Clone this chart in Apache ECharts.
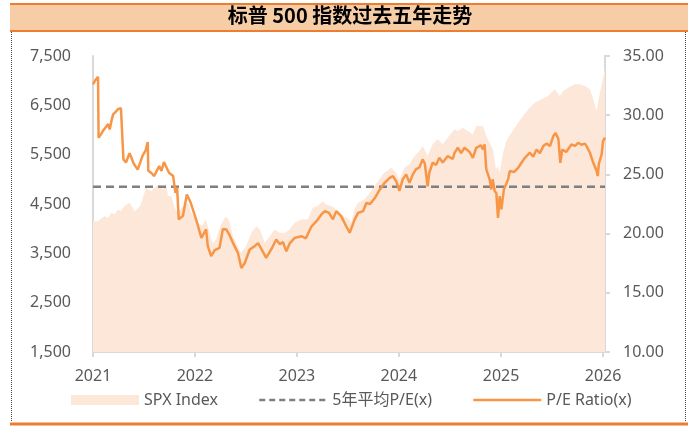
<!DOCTYPE html>
<html>
<head>
<meta charset="utf-8">
<script src="https://cdn.jsdelivr.net/npm/echarts@6/dist/echarts.min.js"></script>
<style>
  html, body { margin: 0; padding: 0; background: #fff; }
  #spx-pe { width: 691px; height: 426px; }
</style>
</head>
<body>
<div id="spx-pe"></div>
<script>
// 标普500 指数 与 市盈率
var peDates = ['2021-01-01','2021-01-08','2021-01-12','2021-01-19','2021-01-21','2021-01-30','2021-02-06','2021-02-13','2021-02-24','2021-03-02',
  '2021-03-08','2021-03-14','2021-03-24','2021-03-31','2021-04-11','2021-04-18','2021-04-20','2021-04-29','2021-05-12','2021-05-27',
  '2021-06-10','2021-06-28','2021-07-08','2021-07-16','2021-07-18','2021-07-30','2021-08-08','2021-08-26','2021-09-03','2021-09-12',
  '2021-09-30','2021-10-15','2021-10-23','2021-10-29','2021-11-04','2021-11-19','2021-12-03','2021-12-17','2022-01-05','2022-01-24',
  '2022-02-10','2022-02-16','2022-02-28','2022-03-13','2022-03-30','2022-04-11','2022-04-23','2022-05-02','2022-05-17','2022-06-04',
  '2022-06-16','2022-06-28','2022-07-16','2022-08-03','2022-08-15','2022-08-29','2022-09-13','2022-10-01','2022-10-19','2022-11-01',
  '2022-11-12','2022-11-24','2022-12-07','2022-12-24','2023-01-17','2023-02-02','2023-02-22','2023-03-12','2023-03-29','2023-04-11',
  '2023-04-26','2023-05-10','2023-05-22','2023-06-08','2023-06-27','2023-07-09','2023-07-27','2023-08-08','2023-08-26','2023-09-07',
  '2023-09-20','2023-10-07','2023-10-25','2023-11-11','2023-11-29','2023-12-11','2023-12-23','2024-01-03','2024-01-15','2024-01-27',
  '2024-02-08','2024-02-20','2024-03-02','2024-03-15','2024-03-26','2024-04-03','2024-04-13','2024-04-19','2024-05-01','2024-05-13',
  '2024-05-25','2024-06-06','2024-06-24','2024-07-12','2024-07-18','2024-07-30','2024-08-11','2024-08-23','2024-09-10','2024-09-22',
  '2024-10-04','2024-10-21','2024-10-28','2024-11-03','2024-11-09','2024-11-21','2024-11-27','2024-12-02','2024-12-09','2024-12-15',
  '2024-12-21','2024-12-27','2025-01-02','2025-01-11','2025-01-26','2025-02-01','2025-02-16','2025-03-03','2025-03-15','2025-03-27',
  '2025-04-14','2025-04-26','2025-05-08','2025-05-20','2025-06-01','2025-06-13','2025-06-25','2025-07-07','2025-07-15','2025-07-25',
  '2025-08-01','2025-08-08','2025-08-22','2025-09-10','2025-09-22','2025-10-04','2025-10-16','2025-10-28','2025-11-03','2025-11-15',
  '2025-11-27','2025-12-09','2025-12-13','2025-12-17','2025-12-27','2026-01-01','2026-01-08'];
var peValues = [32.6,32.9,33.0,33.25,28.1,28.4,28.7,28.9,29.25,28.8,
  29.5,30.07,30.3,30.5,30.6,30.5,26.27,26.0,26.8,25.9,
  25.4,26.6,27.0,27.73,25.3,25.1,24.86,25.7,25.3,26.04,
  25.14,24.86,23.45,23.9,21.2,21.5,23.3,22.6,21.2,19.64,
  20.35,18.94,18.1,18.6,18.8,20.4,20.35,20.0,19.22,18.37,
  17.1,17.5,18.66,18.94,19.2,18.6,17.95,18.66,19.5,19.1,
  19.3,18.5,19.2,19.64,19.78,19.6,20.6,21.05,21.6,21.9,
  21.75,21.2,21.9,21.5,20.6,20.07,21.2,21.75,21.9,22.6,
  22.5,23.0,23.73,24.29,24.7,24.86,24.4,23.6,24.6,25.0,
  24.29,25.0,25.42,25.6,26.27,25.9,24.0,25.14,26.0,25.8,
  26.4,26.0,26.55,26.3,26.8,27.25,26.8,27.25,26.9,26.4,
  27.25,27.45,27.1,27.53,25.42,24.58,23.73,24.6,23.6,23.4,
  21.33,23.17,22.04,23.73,24.58,25.28,25.2,25.56,25.98,26.4,
  26.83,26.5,27.1,26.8,27.39,27.6,27.4,28.24,28.5,28.0,
  25.98,27.1,26.9,27.53,27.4,27.67,27.5,27.6,27.39,26.83,
  25.98,25.28,24.86,25.9,26.7,27.82,28.1];

var spxDates = ['2021-01-01','2021-01-04','2021-01-19','2021-02-11','2021-02-24','2021-03-07','2021-03-20','2021-03-31','2021-04-11','2021-04-24',
  '2021-05-12','2021-05-30','2021-06-18','2021-06-23','2021-07-10','2021-07-28','2021-08-08','2021-08-27','2021-09-08','2021-09-20',
  '2021-09-26','2021-10-08','2021-10-20','2021-11-01','2021-11-13','2021-12-07','2021-12-18','2022-01-05','2022-01-24','2022-02-10',
  '2022-02-22','2022-03-06','2022-03-18','2022-04-04','2022-04-22','2022-05-04','2022-05-17','2022-06-03','2022-06-15','2022-07-03',
  '2022-07-22','2022-08-09','2022-08-21','2022-09-08','2022-09-26','2022-10-13','2022-10-31','2022-11-18','2022-12-06','2022-12-24',
  '2023-01-17','2023-02-09','2023-02-27','2023-03-17','2023-04-03','2023-04-15','2023-05-03','2023-05-15','2023-05-30','2023-06-17',
  '2023-07-08','2023-07-14','2023-07-26','2023-08-07','2023-08-31','2023-09-24','2023-10-18','2023-11-10','2023-12-05','2023-12-22',
  '2024-01-03','2024-01-21','2024-02-08','2024-02-26','2024-03-15','2024-03-26','2024-04-13','2024-05-01','2024-05-19','2024-06-06',
  '2024-06-24','2024-07-18','2024-07-30','2024-08-17','2024-09-04','2024-09-22','2024-10-04','2024-10-28','2024-11-09','2024-11-21',
  '2024-12-03','2024-12-14','2024-12-21','2024-12-27','2025-01-08','2025-01-20','2025-02-07','2025-03-03','2025-03-21','2025-04-08',
  '2025-05-01','2025-05-25','2025-06-18','2025-07-12','2025-07-30','2025-08-12','2025-08-29','2025-09-22','2025-10-10','2025-10-28',
  '2025-11-15','2025-11-27','2025-12-09','2025-12-21','2026-01-01','2026-01-08'];
var spxValues = [4150,4186,4152,4254,4220,4321,4290,4390,4360,4457,
  4524,4355,4450,4524,4828,4760,4828,4897,4790,4930,
  4660,4660,4422,4320,4422,4524,4320,4186,4051,4186,
  3915,3700,3780,4085,4254,4150,3848,3645,3510,3645,
  3915,4051,3984,3712,3848,3984,3915,3915,3984,4118,
  4186,4186,4422,4460,4558,4490,4460,4422,4321,4254,
  4186,4118,4390,4524,4592,4761,4964,5133,5234,5133,
  4998,5234,5303,5471,5573,5674,5471,5709,5810,5709,
  5844,6013,5979,6045,5979,5911,6080,6080,5877,5740,
  5607,5201,5270,5133,5538,5776,5944,6147,6283,6418,
  6553,6621,6688,6824,6688,6790,6857,6925,6925,6891,
  6824,6621,6384,6756,7060,7250];

var peAverage = 23.95;
var leftTicks = [1500, 7500, 1000];
var rightTicks = [10, 35, 5];

function pairs(d, v) {
  return d.map(function (x, i) { return [x, v[i]]; });
}

var chart = echarts.init(document.getElementById('spx-pe'));
var font = '"Noto Sans", "Noto Sans CJK SC", sans-serif';

var option = {
  animation: false,
  backgroundColor: '#fff',
  grid: { left: 93, right: 86, top: 56, bottom: 74 },
  graphic: [
    { type: 'rect', shape: { x: 10, y: 4, width: 678, height: 27 }, style: { fill: '#F7CDA6', stroke: null } },
    { type: 'line', shape: { x1: 10, y1: 4, x2: 688, y2: 4 }, style: { stroke: '#ED7D31', lineWidth: 2 } },
    { type: 'line', shape: { x1: 10, y1: 31, x2: 688, y2: 31 }, style: { stroke: '#ED7D31', lineWidth: 2 } },
    { type: 'text', x: 350, y: 5, style: { text: '标普 500 指数过去五年走势', font: 'bold 20px "Noto Sans CJK SC"', fill: '#000', align: 'center' } },
    { type: 'line', shape: { x1: 11.5, y1: 32, x2: 11.5, y2: 422 }, style: { stroke: '#444', lineWidth: 1, lineDash: [1, 1] } },
    { type: 'line', shape: { x1: 685.5, y1: 32, x2: 685.5, y2: 422 }, style: { stroke: '#444', lineWidth: 1, lineDash: [1, 1] } },
    { type: 'line', shape: { x1: 10, y1: 424, x2: 688, y2: 424 }, style: { stroke: '#ED7D31', lineWidth: 3 } }
  ],
  legend: {
    left: 66,
    top: 387,
    itemWidth: 68,
    itemHeight: 10,
    itemGap: 40,
    textStyle: { color: '#595959', fontSize: 16, fontFamily: font },
    data: [
      { name: 'SPX Index', icon: 'rect', itemStyle: { color: '#FCE7D8' } },
      { name: '5年平均P/E(x)', itemStyle: { opacity: 0 }, lineStyle: { color: '#7F7F7F', width: 2.5, type: [6, 4] } },
      { name: 'P/E Ratio(x)', itemStyle: { opacity: 0 }, lineStyle: { color: '#F79646', width: 2.5 } }
    ]
  },
  xAxis: {
    type: 'time',
    min: '2021-01-01',
    max: '2026-01-08',
    splitNumber: 5,
    minInterval: 365 * 24 * 3600 * 1000,
    axisLine: { lineStyle: { color: '#D9D9D9', width: 2 } },
    axisTick: { show: true, length: 5, lineStyle: { color: '#D9D9D9', width: 2 } },
    axisLabel: { formatter: '{yyyy}', color: '#595959', fontSize: 16, fontFamily: font, margin: 16 },
    splitLine: { show: false }
  },
  yAxis: [
    {
      type: 'value',
      min: leftTicks[0], max: leftTicks[1], interval: leftTicks[2],
      axisLine: { show: true, lineStyle: { color: '#D9D9D9', width: 2 } },
      axisTick: { show: false },
      splitLine: { show: false },
      axisLabel: {
        color: '#595959', fontSize: 16, fontFamily: font, margin: 22,
        formatter: function (v) { return v.toString().replace(/\B(?=(\d{3})+(?!\d))/g, ','); }
      }
    },
    {
      type: 'value',
      min: rightTicks[0], max: rightTicks[1], interval: rightTicks[2],
      axisLine: { show: true, lineStyle: { color: '#D9D9D9', width: 2 } },
      axisTick: { show: true, length: 5, lineStyle: { color: '#D9D9D9', width: 2 } },
      splitLine: { show: false },
      axisLabel: {
        color: '#595959', fontSize: 16, fontFamily: font, margin: 18,
        formatter: function (v) { return v.toFixed(2); }
      }
    }
  ],
  series: [
    {
      name: 'SPX Index',
      type: 'line',
      yAxisIndex: 0,
      symbol: 'none',
      lineStyle: { width: 0 },
      itemStyle: { color: '#FCE7D8' },
      areaStyle: { color: '#FCE7D8', opacity: 1 },
      data: pairs(spxDates, spxValues),
      z: 1
    },
    {
      name: '5年平均P/E(x)',
      type: 'line',
      yAxisIndex: 1,
      symbol: 'none',
      itemStyle: { color: '#7F7F7F' },
      lineStyle: { color: '#7F7F7F', width: 2.5, type: [8, 5] },
      data: [[peDates[0], peAverage], [peDates[peDates.length - 1], peAverage]],
      z: 2
    },
    {
      name: 'P/E Ratio(x)',
      type: 'line',
      yAxisIndex: 1,
      symbol: 'none',
      itemStyle: { color: '#F79646' },
      lineStyle: { color: '#F79646', width: 2.5 },
      data: pairs(peDates, peValues),
      z: 3
    }
  ]
};

chart.setOption(option);
</script>
</body>
</html>
